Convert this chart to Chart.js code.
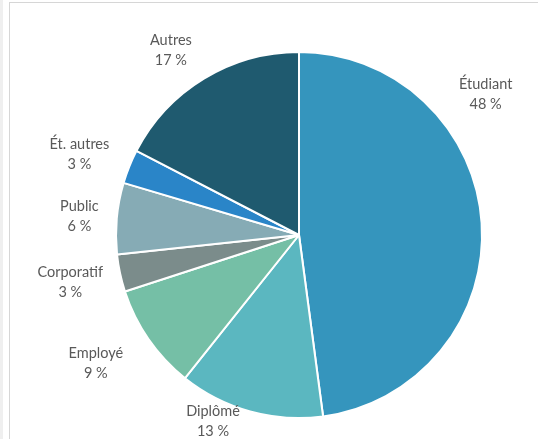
<!DOCTYPE html>
<html><head><meta charset="utf-8">
<script src="https://cdn.jsdelivr.net/npm/chart.js@4"></script>
<style>
html,body{margin:0;padding:0;background:#fff;}
#wrap{position:relative;width:539px;height:439px;overflow:hidden;}
#strip{position:absolute;left:0;top:0;width:3px;height:439px;background:#efefef;}
#lline{position:absolute;left:9px;top:2px;width:1px;height:437px;background:#d6d6d6;}
#tline{position:absolute;left:9px;top:2px;width:529px;height:1px;background:#d6d6d6;}
canvas{position:absolute;left:0;top:0;}
</style></head>
<body><div id="wrap"><div id="strip"></div><div id="lline"></div><div id="tline"></div>
<canvas id="c" width="539" height="439"></canvas></div>
<script>
const categories = ["Étudiant","Diplômé","Employé","Corporatif","Public","Ét. autres","Autres"];
const shares = [47.9, 12.8, 9.3, 3.3, 6.3, 3.0, 17.4];
const shareLabels = ["48 %","13 %","9 %","3 %","6 %","3 %","17 %"];
const colors = ["#3595bd","#5bb7c0","#75bfa6","#7b8c8b","#86abb5","#2a85c8","#1f5a6f"];
// label anchor offsets in units of pie radius (dx, dy of label centre from pie centre)
const labelOffsets = [[1.02,-0.77],[-0.47,1.02],[-1.11,0.70],[-1.25,0.26],[-1.20,-0.10],[-1.20,-0.44],[-0.70,-1.01]];

const labelPlugin = {
  id:'outerLabels',
  afterDatasetsDraw(chart){
    const ctx = chart.ctx;
    const meta = chart.getDatasetMeta(0);
    ctx.save();
    ctx.font = '14.5px Lato, "Open Sans", sans-serif';
    ctx.fillStyle = '#595959';
    ctx.textAlign = 'center';
    ctx.textBaseline = 'middle';
    meta.data.forEach((arc,i)=>{
      const r = arc.outerRadius;
      const x = arc.x + labelOffsets[i][0]*r;
      const y = arc.y + labelOffsets[i][1]*r;
      ctx.fillText(categories[i], x, y-10);
      ctx.fillText(shareLabels[i], x, y+10);
    });
    ctx.restore();
  }
};

new Chart(document.getElementById('c'),{
  type:'pie',
  data:{labels:categories,datasets:[{data:shares,backgroundColor:colors,borderColor:'#ffffff',borderWidth:2}]},
  options:{
    responsive:false,animation:false,
    layout:{padding:{left:115,right:56,top:51,bottom:20}},
    plugins:{legend:{display:false},tooltip:{enabled:false}}
  },
  plugins:[labelPlugin]
});
</script></body></html>
